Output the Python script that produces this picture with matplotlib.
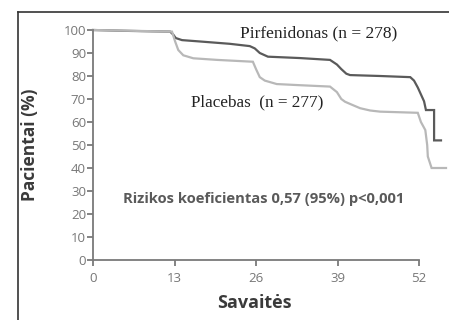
import matplotlib.pyplot as plt
from matplotlib.lines import Line2D

# Kaplan-Meier style curves, weeks vs % patients
pirf_weeks = [0, 5.9, 12.3, 12.8, 13.2, 14.2, 17.1, 21.8, 25.0, 25.8, 26.6, 27.9, 33.0, 37.8,
              38.9, 39.6, 40.4, 41.0, 45.8, 50.6, 51.2, 51.8, 52.3, 52.8, 53.1, 54.4, 54.4, 55.5]
pirf_vals = [100, 99.6, 99.3, 98, 96.5, 95.6, 95, 94, 93, 92, 90, 88.4, 87.8, 87,
             85, 83, 81, 80.4, 80, 79.5, 78, 75, 72, 69, 65.2, 65.2, 52, 52]

plac_weeks = [0, 12.6, 13.1, 13.6, 14.4, 16.0, 19.8, 25.5, 26.0, 26.6, 27.4, 29.3, 33.0, 37.8,
              38.9, 39.6, 40.2, 41.3, 42.6, 44.2, 45.8, 51.8, 52.3, 53.0, 53.3, 53.4, 54.0, 56.3]
plac_vals = [100, 99.3, 95, 91.3, 89, 87.7, 87, 86.2, 83, 79.5, 78, 76.5, 76, 75.4,
             73, 70, 68.8, 67.5, 66, 65, 64.5, 64, 60, 56.5, 50, 45, 40, 40]

x_ticks = [0, 13, 26, 39, 52]
y_ticks = [0, 10, 20, 30, 40, 50, 60, 70, 80, 90, 100]

W, H = 449, 320
fig = plt.figure(figsize=(W / 100, H / 100), dpi=100)
ax = fig.add_axes([93 / W, 60 / H, (W - 93) / W, 230 / H])

axis_col = '#7a7a7a'
ax.plot(pirf_weeks, pirf_vals, color='#5a5a5a', lw=1.6, clip_on=False,
        solid_joinstyle='miter')
ax.plot(plac_weeks, plac_vals, color='#b8b8b8', lw=1.6, clip_on=False,
        solid_joinstyle='miter')

ax.set_xlim(0, (W - 93) / 6.27)
ax.set_ylim(0, 100)
ax.set_xticks(x_ticks)
ax.set_yticks(y_ticks)
for s in ['top', 'right']:
    ax.spines[s].set_visible(False)
ax.spines['bottom'].set_bounds(0, 52)
ax.spines['left'].set_bounds(0, 100)
for s in ['left', 'bottom']:
    ax.spines[s].set_color(axis_col)
    ax.spines[s].set_linewidth(1.3)
ax.tick_params(colors=axis_col, length=4, width=1.3)
ax.tick_params(axis='x', pad=5)
ax.tick_params(axis='y', pad=1)
for lab in ax.get_xticklabels() + ax.get_yticklabels():
    lab.set_fontfamily('Open Sans')
    lab.set_fontsize(9.5)
    lab.set_color('#777777')

# annotations
ax.text(23.4, 98.7, 'Pirfenidonas (n = 278)', family='Liberation Serif', fontsize=12.5,
        color='#222222', va='center')
ax.text(15.6, 68.7, 'Placebas  (n = 277)', family='Liberation Serif', fontsize=12.3,
        color='#222222', va='center')
ax.text(4.8, 26.5, 'Rizikos koeficientas 0,57 (95%) p<0,001', family='Open Sans',
        fontweight='bold', fontsize=10.6, color='#5a5a5a', va='center')

fig.text(30 / W, 1 - 145 / H, 'Pacientai (%)', rotation=90, family='Open Sans',
         fontweight='bold', fontsize=12.5, color='#3a3a3a', ha='center', va='center')
fig.text(254 / W, 1 - 303 / H, 'Savaitės', family='Open Sans', fontweight='bold',
         fontsize=13, color='#3a3a3a', ha='center', va='center')

# outer frame (left and top only)
fig.add_artist(Line2D([17.5 / W, 17.5 / W], [0, 1 - 12 / H], color='#333333', lw=1.2))
fig.add_artist(Line2D([17.5 / W, 1], [1 - 12 / H, 1 - 12 / H], color='#333333', lw=1.2))

fig.savefig('out.png', dpi=100)
